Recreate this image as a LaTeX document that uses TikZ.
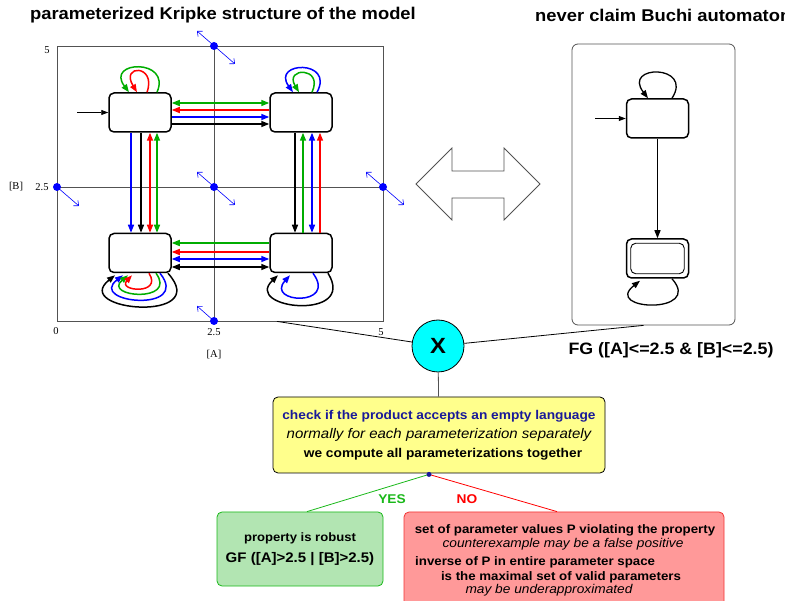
\documentclass[tikz,border=0pt]{standalone}
\usepackage{fontspec}
\setmainfont{Liberation Sans}[FakeStretch=1.08]
\newfontfamily\axisfont{Liberation Serif}
\usetikzlibrary{
  arrows.meta,
  positioning,
  calc
}
\usepackage{xcolor}
\definecolor{kGreen}{rgb}{0.0,0.68,0.0}
\definecolor{kRed}{rgb}{1,0,0}
\definecolor{kBlue}{rgb}{0,0,1}
\definecolor{frameGray}{rgb}{0.32,0.32,0.32}
\definecolor{prodCyan}{rgb}{0,1,1}
\definecolor{lightYellow}{rgb}{1,1,0.55}
\definecolor{lightGreen}{rgb}{0.70,0.90,0.70}
\definecolor{darkGreen}{rgb}{0.10,0.72,0.10}
\definecolor{lightRed}{rgb}{1,0.60,0.60}
\definecolor{darkRed}{rgb}{0.95,0.20,0.20}
\definecolor{darkBlue}{rgb}{0.10,0.10,0.60}
\tikzset{
  kstate/.style={
    draw,
    line width=1.5pt,
    rounded corners=5pt,
    minimum width=62pt,
    minimum height=39pt,
    inner sep=0pt
  },
  frame/.style={draw=frameGray, line width=0.8pt, inner sep=0pt},
  trans/.style={line width=1.5pt},
  tipF/.style={->},
  tipB/.style={<-},
  tipFB/.style={<->},
  shiftBoth/.style={kBlue, line width=0.6pt,
    {Straight Barb[length=4pt,width=7pt]}-{Straight Barb[length=4pt,width=7pt]}},
  shiftOne/.style={kBlue, line width=0.6pt,
    -{Straight Barb[length=4pt,width=7pt]}},
  axis/.style={font=\axisfont\fontsize{10.5}{12}\selectfont, inner sep=1pt},
  title/.style={font=\bfseries\fontsize{17}{19}\selectfont, inner sep=0pt},
  boldLine/.style={font=\bfseries\fontsize{12.3}{14}\selectfont, inner sep=0pt},
  italicLine/.style={font=\itshape\fontsize{12.7}{14}\selectfont, inner sep=0pt}
}

\begin{document}
\begin{tikzpicture}[x=1pt, y=-1pt, >={Triangle[length=8pt,width=6pt]}]
    \useasboundingbox (0,0) rectangle (785,601);

    \node[title] (kripkeTitle) at (223,15) {parameterized Kripke structure of the model};
    \node[title, anchor=west] (buchiTitle) at (535,15) {never claim Buchi automaton};

    % parameter space of the model
    \node[frame, minimum width=326pt, minimum height=275pt] (kripkeFrame) at (220,183.5) {};
    \draw[frameGray, line width=0.8pt] (214,46) -- (214,321);
    \draw[frameGray, line width=0.8pt] (57,187) -- (383,187);

    \node[axis] (tickB5) at (47,50) {5};
    \node[axis] (tickB2) at (42,187) {2.5};
    \node[axis] (labelB) at (16,187) {[B]};
    \node[axis] (tickA0) at (56,331) {0};
    \node[axis] (tickA2) at (214,332) {2.5};
    \node[axis] (tickA5) at (381,332) {5};
    \node[axis] (labelA) at (214,355) {[A]};

    \foreach \x/\y in {214/46, 57/187, 214/187, 383/187, 214/321}{
      \fill[kBlue] (\x,\y) circle[radius=4pt];
    }
    \foreach \x/\y in {214/46, 214/187, 383/187}{
      \draw[shiftBoth] (\x-17,\y-15) -- (\x+21,\y+18);
    }
    \draw[shiftOne] (57,187) -- (79,206);
    \draw[shiftOne] (214,321) -- (197,306);

    \node[kstate] (s01) at (140,112.5) {};
    \node[kstate] (s11) at (301,112.5) {};
    \node[kstate] (s00) at (140,253) {};
    \node[kstate] (s10) at (301,253) {};

    \coordinate (init1) at (77,112.5);
    \draw[line width=0.9pt, -{Triangle[length=7pt,width=5pt]}] (init1) -- (s01);

    \foreach \c/\d/\t in {kGreen/-9.5/tipFB, kRed/-2.5/tipB, kBlue/4.5/tipF, black/11.5/tipF}{
      \draw[trans,\c,\t] ($(s01.east)+(0,\d)$) -- ($(s11.west)+(0,\d)$);
    }
    \foreach \c/\d/\t in {kGreen/-10/tipB, kRed/-1/tipB, kBlue/6/tipFB, black/14/tipFB}{
      \draw[trans,\c,\t] ($(s00.east)+(0,\d)$) -- ($(s10.west)+(0,\d)$);
    }
    \foreach \c/\d/\t in {kBlue/-9/tipF, black/1/tipF, kRed/10/tipFB, kGreen/17/tipFB}{
      \draw[trans,\c,\t] ($(s01.south)+(\d,0)$) -- ($(s00.north)+(\d,0)$);
    }
    \foreach \c/\d/\t in {black/-6/tipF, kGreen/2/tipB, kBlue/11/tipFB, kRed/19/tipB}{
      \draw[trans,\c,\t] ($(s11.south)+(\d,0)$) -- ($(s10.north)+(\d,0)$);
    }

    % self loops
    \draw[trans,kGreen,->] ($(s01.north)+(17,0)$)
      .. controls +(15,-34) and +(-24,-32) .. ($(s01.north)+(-11,0)$);
    \draw[trans,kRed,->] ($(s01.north)+(7,0)$)
      .. controls +(10,-28) and +(-17,-28) .. ($(s01.north)+(-3,0)$);
    \draw[trans,kBlue,->] ($(s11.north)+(16,0)$)
      .. controls +(18,-33) and +(-22,-31) .. ($(s11.north)+(-8,0)$);
    \draw[trans,kGreen,->] ($(s11.north)+(11,0)$)
      .. controls +(12,-26) and +(-15,-25) .. ($(s11.north)+(-2,0)$);

    \draw[trans,black,->] ($(s00.south)+(28,0)$)
      .. controls +(45,50) and +(-45,36) .. ($(s00.south)+(-25,2)$);
    \draw[trans,kBlue,->] ($(s00.south)+(20,0)$)
      .. controls +(32,40) and +(-36,28) .. ($(s00.south)+(-17,2)$);
    \draw[trans,kGreen,->] ($(s00.south)+(16,0)$)
      .. controls +(22,30) and +(-26,22) .. ($(s00.south)+(-12,2)$);
    \draw[trans,kRed,->] ($(s00.south)+(9,0)$)
      .. controls +(14,22) and +(-15,16) .. ($(s00.south)+(-8,2)$);

    \draw[trans,black,->] ($(s10.south)+(27,0)$)
      .. controls +(30,48) and +(-36,34) .. ($(s10.south)+(-23,2)$);
    \draw[trans,kBlue,->] ($(s10.south)+(12,0)$)
      .. controls +(25,34) and +(-25,28) .. ($(s10.south)+(-11,2)$);

    % never claim
    \node[frame, rounded corners=6pt, minimum width=163pt, minimum height=281pt] (buchiFrame) at (653.5,184.5) {};
    \node[kstate] (buchi1) at (657.5,118.5) {};
    \node[kstate] (buchi2) at (657.5,258.5) {};
    \draw[line width=0.9pt, rounded corners=5pt]
      ($(buchi2.south west)+(5,-5)$) rectangle ($(buchi2.north east)+(-5,5)$);

    \coordinate (init2) at (595,118.5);
    \draw[line width=0.9pt, -{Triangle[length=7pt,width=5pt]}] (init2) -- (buchi1);
    \draw[line width=1.3pt, ->] (buchi1) -- (buchi2);
    \draw[line width=1.3pt, ->] ($(buchi1.north)+(14.5,0)$)
      .. controls +(22,-34) and +(-26,-34) .. ($(buchi1.north)+(-9.5,0)$);
    \draw[line width=1.3pt, ->] ($(buchi2.south)+(14.5,0)$)
      .. controls +(32,36) and +(-38,30) .. ($(buchi2.south)+(-17.5,2)$);

    \node[font=\bfseries\fontsize{16.5}{19}\selectfont, inner sep=0pt] (formula) at (671,350)
      {FG ([A]<=2.5 \& [B]<=2.5)};

    \draw[frameGray, line width=0.8pt] (416,184) -- (452,148) -- (452,171) -- (504,171)
      -- (504,148) -- (540,184) -- (504,220) -- (504,198) -- (452,198) -- (452,220) -- cycle;

    % product and emptiness check
    \node[circle, draw, line width=0.8pt, fill=prodCyan, minimum size=52pt, inner sep=0pt,
      font=\bfseries\fontsize{22}{22}\selectfont] (product) at (438,346) {X};
    \coordinate (kripkeLink) at ($(kripkeFrame.south)+(57,0)$);
    \coordinate (buchiLink) at ($(buchiFrame.south)+(-10,0)$);
    \draw[line width=0.8pt] (kripkeLink) -- (product);
    \draw[line width=0.8pt] (product) -- (buchiLink);

    \node[draw, line width=0.8pt, fill=lightYellow, rounded corners=5pt,
      minimum width=332pt, minimum height=76pt, align=center,
      font=\fontsize{12.7}{19}\selectfont] (check) at (439,435)
      {\textbf{\color{darkBlue}check if the product accepts an empty language}\\
       {\itshape\fontsize{13.9}{19}\selectfont normally for each parameterization separately}\\
       \hspace*{8pt}\textbf{we compute all parameterizations together}};
    \draw[frameGray, line width=0.8pt] (product) -- (check);

    \node[draw=darkGreen, line width=0.8pt, fill=lightGreen, rounded corners=5pt,
      minimum width=166pt, minimum height=74pt, align=center] (robust) at (300,549)
      {\bfseries\fontsize{12.1}{14}\selectfont property is robust\\[8pt]
       \bfseries\fontsize{13.9}{16}\selectfont GF ([A]>2.5 | [B]>2.5)};

    \node[draw=darkRed, line width=0.8pt, fill=lightRed, rounded corners=5pt,
      minimum width=320pt, minimum height=96pt] (violate) at (564,560) {};
    \node[boldLine] (violate1) at (565,530) {set of parameter values P violating the property};
    \node[italicLine] (violate2) at (563,544) {counterexample may be a false positive};
    \node[boldLine, anchor=west] (violate3) at (415,562) {inverse of P in entire parameter space};
    \node[boldLine] (violate4) at (561,577) {is the maximal set of valid parameters};
    \node[italicLine] (violate5) at (549,590) {may be underapproximated};

    \coordinate (split) at ($(check.south)+(-10,1)$);
    \draw[darkGreen, line width=0.8pt] (split) -- ($(robust.north)+(7,0)$);
    \draw[kRed, line width=0.8pt] (split) -- ($(violate.north)+(-7,0)$);
    \fill[darkBlue] (split) circle[radius=2.5pt];

    \node[font=\bfseries\fontsize{12.7}{14}\selectfont, text=darkGreen] (yesLabel) at (392,499) {YES};
    \node[font=\bfseries\fontsize{12.7}{14}\selectfont, text=kRed] (noLabel) at (467,499) {NO};
\end{tikzpicture}
\end{document}
